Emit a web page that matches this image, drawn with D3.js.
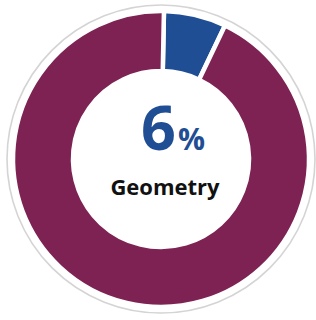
<!DOCTYPE html>
<html>
<head>
<meta charset="utf-8">
<script src="https://cdn.jsdelivr.net/npm/d3@7"></script>
<style>
  html, body { margin: 0; padding: 0; background: #fff; }
  svg { display: block; }
</style>
</head>
<body>
<div id="chart"></div>
<script>
// Data
const categories = ["Geometry", "Other"];
const shares = [6.8, 93.2];          // visual share of the ring
const sliceColors = ["#1f4e94", "#7d2252"];
const bigValue = "6";
const bigUnit = "%";
const caption = "Geometry";

const width = 316, height = 320;
const cx = 161, cy = 159;

const svg = d3.select("#chart").append("svg")
    .attr("width", width)
    .attr("height", height);

const g = svg.append("g").attr("transform", `translate(${cx},${cy})`);

// light outer frame circle
g.append("circle")
    .attr("r", 154)
    .attr("fill", "none")
    .attr("stroke", "#d4d4d4")
    .attr("stroke-width", 1.6);

const start = 0.02;
const pie = d3.pie().sort(null)
    .startAngle(start)
    .endAngle(start + 2 * Math.PI);

const arc = d3.arc().innerRadius(88).outerRadius(148);

g.selectAll("path")
    .data(pie(shares))
    .enter().append("path")
    .attr("d", arc)
    .attr("fill", (d, i) => sliceColors[i])
    .attr("stroke", "#fff")
    .attr("stroke-width", 4.5)
    .attr("stroke-linejoin", "miter");

// centre label
const big = g.append("text")
    .attr("text-anchor", "middle")
    .attr("x", 12)
    .attr("y", -9)
    .attr("fill", "#1f4e94")
    .attr("font-family", "'Open Sans', sans-serif")
    .attr("font-weight", 700);
big.append("tspan").attr("font-size", 61).text(bigValue);
big.append("tspan").attr("font-size", 30).attr("dx", 2).text(bigUnit);

g.append("text")
    .attr("text-anchor", "middle")
    .attr("x", 4)
    .attr("y", 36)
    .attr("fill", "#111")
    .attr("font-family", "'Open Sans', sans-serif")
    .attr("font-weight", 700)
    .attr("font-size", 22)
    .text(caption);
</script>
</body>
</html>
